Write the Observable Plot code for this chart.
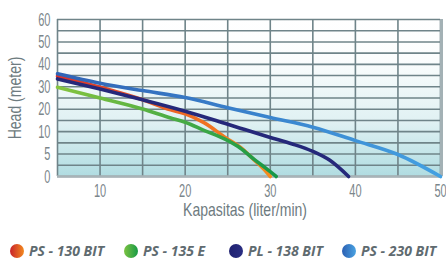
<!DOCTYPE html>
<html><head><meta charset="utf-8">
<script src="https://cdn.jsdelivr.net/npm/d3@7"></script>
<script src="https://cdn.jsdelivr.net/npm/@observablehq/plot@0.6"></script>
<style>
body{margin:0;background:#fff;width:446px;height:260px;overflow:hidden;}
#chart{position:relative;width:446px;height:260px;}
.legend{position:absolute;top:243px;left:0;width:446px;height:18px;font-family:"Open Sans",sans-serif;font-style:italic;font-weight:700;font-size:14px;color:#5f6b70;}
.item{position:absolute;top:0;display:flex;align-items:center;white-space:nowrap;line-height:16px;}
.dot{width:14px;height:14px;border-radius:50%;margin-right:5px;}
</style></head><body><div id="chart"></div>
<script>
// ---- data ----
const seriesNames = ["PS - 130 BIT", "PS - 135 E", "PL - 138 BIT", "PS - 230 BIT"];
const flow130 = [5, 10, 15, 18.3, 20, 22.2, 24.8, 26.5, 28.1, 29.2, 30];
const head130 = [34.7, 29.8, 24.2, 19.7, 17.9, 14.0, 8.6, 6.5, 3.7, 1.7, 0];
const flow135 = [5, 10, 15, 18.3, 20, 22.2, 24.8, 26.5, 28.1, 29.5, 30.7];
const head135 = [29.8, 25.0, 20.1, 16.1, 14.2, 10.6, 8.2, 6.3, 3.8, 1.8, 0];
const flow138 = [5, 10, 15, 20, 25, 30, 32.5, 35, 37, 39.2];
const head138 = [33.5, 29.0, 24.2, 19.1, 13.3, 8.7, 7.3, 5.6, 3.6, 0];
const flow230 = [5, 10, 15, 20, 25, 30, 35, 40, 45, 50];
const head230 = [35.8, 31.6, 28.3, 25.2, 20.7, 16.3, 12.0, 8.0, 4.9, 0];
const xTicks = [10, 20, 30, 40, 50];
const yTicks = [0, 5, 10, 20, 30, 40, 50, 60];
const xGrid = [5, 10, 15, 20, 25, 30, 35, 40, 45, 50];
const yGrid = [0, 2.5, 5, 7.5, 10, 15, 20, 25, 30, 35, 40, 45, 50, 55, 60];
const xTitle = "Kapasitas (liter/min)";
const yTitle = "Head (meter)";

// the chart's head axis is stretched below 10 m (0–10 takes twice the room per metre)
const headTransform = (v) => (v <= 10 ? v * 2 : v + 10);
const headInverse = (t) => (t <= 20 ? t / 2 : t - 10);

const toRows = (xs, ys) => xs.map((x, i) => ({x, y: ys[i]}));
const d130 = toRows(flow130, head130);
const d135 = toRows(flow135, head135);
const d138 = toRows(flow138, head138);
const d230 = toRows(flow230, head230);

const lineOpts = (stroke) => ({x: "x", y: (d) => headTransform(d.y), stroke, strokeWidth: 3.6, curve: "monotone-x"});

const chart = Plot.plot({
  width: 446, height: 225,
  marginLeft: 57, marginRight: 6, marginTop: 19, marginBottom: 49,
  style: {fontFamily: "'Liberation Sans', Arial, sans-serif", fontSize: "19px", color: "#7b868b", background: "transparent"},
  x: {domain: [5, 50], ticks: xTicks, tickSize: 0, tickPadding: 7, label: null},
  y: {domain: [0, headTransform(60)], ticks: yTicks.map(headTransform), tickFormat: (t) => String(Math.round(headInverse(t))), tickSize: 0, tickPadding: 7, label: null},
  marks: [
    Plot.frame({fill: "url(#bgGrad)", stroke: null}),
    Plot.ruleY(yGrid, {y: headTransform, stroke: "#6f8489", strokeWidth: 1.6}),
    Plot.ruleX(xGrid, {stroke: "#6f8489", strokeWidth: 1.6}),
    Plot.ruleX([50], {stroke: "#a3b1b5", strokeWidth: 3, dx: 1}),
    Plot.ruleY([0], {stroke: "#a8b3b7", strokeWidth: 2.5}),
    Plot.line(d130, lineOpts("url(#gOrange)")),
    Plot.line(d135, lineOpts("url(#gGreen)")),
    Plot.line(d138, lineOpts("#25287a")),
    Plot.line(d230, lineOpts("url(#gBlue)")),
    Plot.text([yTitle], {frameAnchor: "left", textAnchor: "middle", lineAnchor: "middle", rotate: -90, dx: -42, fontSize: 18, fill: "#6e7b80"}),
    Plot.text([xTitle], {frameAnchor: "bottom", textAnchor: "middle", lineAnchor: "middle", dx: -4, dy: 34, fontSize: 18, fill: "#6e7b80"})
  ]
});

// gradients
const sx = chart.scale("x");
const svg = d3.select(chart);
const defs = svg.insert("defs", ":first-child");
const bg = defs.append("linearGradient").attr("id", "bgGrad").attr("x1", 0).attr("y1", 0).attr("x2", 0).attr("y2", 1);
[[0, "#ffffff"], [0.25, "#fbfdfd"], [0.65, "#e0f1f3"], [1, "#b0dce1"]].forEach(([o, c]) => bg.append("stop").attr("offset", o).attr("stop-color", c));
function lg(id, x0, x1, stops) {
  const g = defs.append("linearGradient").attr("id", id).attr("gradientUnits", "userSpaceOnUse")
    .attr("x1", sx.apply(x0)).attr("x2", sx.apply(x1)).attr("y1", 0).attr("y2", 0);
  stops.forEach(([o, c]) => g.append("stop").attr("offset", o).attr("stop-color", c));
}
lg("gOrange", flow130[0], flow130[flow130.length - 1], [[0, "#d8302c"], [0.5, "#ec6125"], [1, "#f58c1e"]]);
lg("gGreen", flow135[0], flow135[flow135.length - 1], [[0, "#86c440"], [1, "#169848"]]);
lg("gBlue", flow230[0], flow230[flow230.length - 1], [[0, "#3063b5"], [1, "#43a0e2"]]);

// condensed lettering
svg.selectAll("text").each(function () {
  const t = this.getAttribute("transform");
  const isTitle = this.textContent === xTitle || this.textContent === yTitle;
  if (t) this.setAttribute("transform", t + (isTitle ? " scale(0.78,1)" : " scale(0.58,1)"));
});

const root = document.getElementById("chart");
root.appendChild(chart);

const legendColors = [
  "linear-gradient(90deg,#c8232b,#f2891f)",
  "linear-gradient(90deg,#7cc242,#179a45)",
  "linear-gradient(90deg,#1f2170,#2a2e82)",
  "linear-gradient(90deg,#2b5fb2,#4aa3e2)"
];
const legendLeft = [10, 124, 229, 342];
const legend = document.createElement("div");
legend.className = "legend";
seriesNames.forEach((name, i) => {
  const item = document.createElement("div");
  item.className = "item";
  item.style.left = legendLeft[i] + "px";
  const dot = document.createElement("span");
  dot.className = "dot";
  dot.style.background = legendColors[i];
  const label = document.createElement("span");
  label.textContent = name;
  item.appendChild(dot);
  item.appendChild(label);
  legend.appendChild(item);
});
root.appendChild(legend);
</script></body></html>
